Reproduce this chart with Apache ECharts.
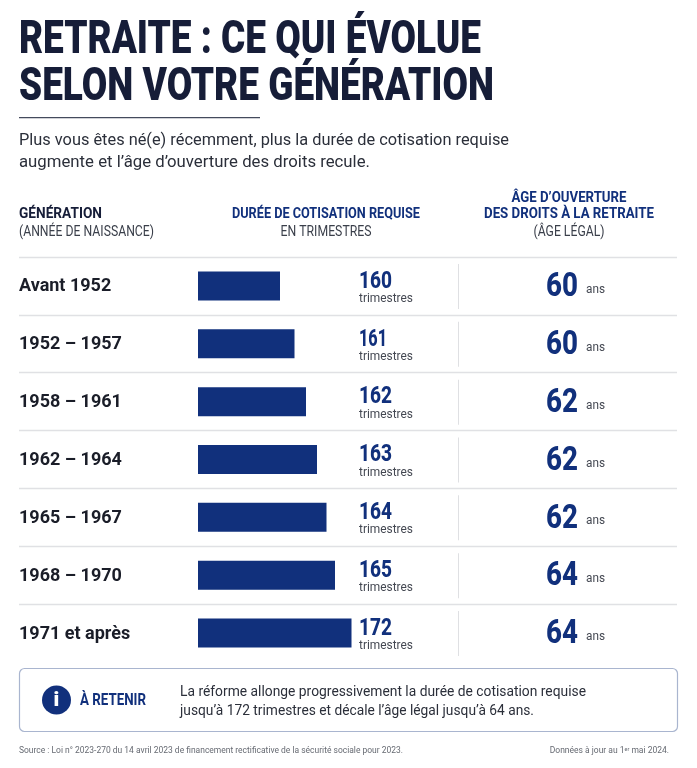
<!DOCTYPE html>
<html><head><meta charset="utf-8">
<style>html,body{margin:0;padding:0;background:#fff}#c{width:697px;height:768px}</style>
<script src="https://cdn.jsdelivr.net/npm/echarts@6/dist/echarts.min.js"></script>
</head><body><div id="c"></div>
<script>
const categories = ['Avant 1952','1952 – 1957','1958 – 1961','1962 – 1964','1965 – 1967','1968 – 1970','1971 et après'];
const trimestres = [160,161,162,163,164,165,172];
const barLengths = [82,96.5,108,119,128.5,137,153.5];
const ages = [60,60,62,62,62,64,64];
const titleLines = ['RETRAITE : CE QUI ÉVOLUE','SELON VOTRE GÉNÉRATION'];
const subtitleLines = ['Plus vous êtes né(e) récemment, plus la durée de cotisation requise','augmente et l’âge d’ouverture des droits recule.'];
const noteLines = ['La réforme allonge progressivement la durée de cotisation requise','jusqu’à 172 trimestres et décale l’âge légal jusqu’à 64 ans.'];

const NAVY='#11307c', INK='#161d38', GREY='#3a3f4a', FF='Roboto, sans-serif';
const mctx=document.createElement('canvas').getContext('2d');
function fit(t,size,weight,w){mctx.font=`${weight} ${size}px Roboto`;return w/mctx.measureText(t).width;}
function T(t,x,y,size,weight,color,w,align){
  return {type:'text',x,y,scaleX:w?fit(t,size,weight,w):1,silent:true,z:5,
    style:{x:0,y:0,text:t,fontSize:size,fontWeight:weight,fontFamily:FF,fill:color,align:align||'left',verticalAlign:'middle'}};
}
const G=[
  T(titleLines[0],19,41,47,'900',INK,462),
  T(titleLines[1],19,88,47,'900',INK,475),
  {type:'rect',shape:{x:19,y:117,width:241,height:1.3},style:{fill:'#444a5c'}},
  T(subtitleLines[0],19,141,16.5,'normal','#2b2f3a',490),
  T(subtitleLines[1],19,163,16.5,'normal','#2b2f3a',351),
  T('GÉNÉRATION',19,214,14.5,'bold',INK,83),
  T('(ANNÉE DE NAISSANCE)',19,232,14,'normal',GREY,135),
  T('DURÉE DE COTISATION REQUISE',326,214,14.5,'bold',NAVY,188,'center'),
  T('EN TRIMESTRES',326,232,14,'normal',GREY,91,'center'),
  T('ÂGE D’OUVERTURE',569,198,14.5,'bold',NAVY,115,'center'),
  T('DES DROITS À LA RETRAITE',569,214,14.5,'bold',NAVY,170,'center'),
  T('(ÂGE LÉGAL)',569,232,14,'normal',GREY,71,'center'),
  {type:'rect',shape:{x:19.5,y:668.5,width:658,height:63,r:5},style:{fill:'#fff',stroke:'#a9b5cf',lineWidth:1.2}},
  {type:'circle',shape:{cx:56.5,cy:700,r:14.5},style:{fill:NAVY}},
  T('i',56.5,701,21,'900','#fff',null,'center'),
  T('À RETENIR',80,701,17,'bold',NAVY,66),
  T(noteLines[0],180,692,14,'normal','#2b2f3a',406),
  T(noteLines[1],180,711,14,'normal','#2b2f3a',354),
  T('Source : Loi n° 2023-270 du 14 avril 2023 de financement rectificative de la sécurité sociale pour 2023.',19,751,8.5,'normal','#666a72',384),
  {type:'text',x:669,y:751,scaleX:1,z:5,style:{x:0,y:0,text:'Données à jour au 1{s|er} mai 2024.',rich:{s:{fontSize:5.5,fontFamily:FF,fill:'#666a72',verticalAlign:'top'}},fontSize:8.5,fontFamily:FF,fill:'#666a72',align:'right',verticalAlign:'middle'}}
];
const TOP=257,H=405;
const chart=echarts.init(document.getElementById('c'),null,{renderer:'canvas'});
function textEl(t,x,y,size,weight,color,w){
  return {type:'text',x,y,scaleX:w?fit(t,size,weight,w):1,
    style:{x:0,y:0,text:t,fontSize:size,fontWeight:weight,fontFamily:FF,fill:color,align:'left',verticalAlign:'middle'}};
}
chart.setOption({
  animation:false,backgroundColor:'#fff',
  grid:[
    {left:198,top:TOP,width:160,height:H},
    {left:19,top:TOP,width:658,height:H}
  ],
  xAxis:[
    {type:'value',gridIndex:0,min:0,max:160,show:false},
    {type:'value',gridIndex:1,min:0,max:658,show:false}
  ],
  yAxis:[
    {type:'category',gridIndex:0,inverse:true,data:categories,axisLine:{show:false},axisTick:{show:false},splitLine:{show:false},axisLabel:{show:false}},
    {type:'category',gridIndex:1,inverse:true,data:categories,axisLine:{show:false},axisTick:{show:false},axisLabel:{show:false},
     splitLine:{show:true,showMinLine:true,showMaxLine:false,lineStyle:{color:'#e0e1e4',width:1.3}}}
  ],
  series:[
    {type:'bar',xAxisIndex:0,yAxisIndex:0,data:barLengths,barWidth:29,itemStyle:{color:NAVY},silent:true},
    {type:'custom',xAxisIndex:1,yAxisIndex:1,silent:true,clip:false,
     data:categories.map((c,i)=>[i]),
     renderItem(params,api){
       const i=api.value(0), yc=api.coord([0,i])[1];
       const n=String(trimestres[i]), a=String(ages[i]);
       return {type:'group',children:[
         textEl(categories[i],19,yc+1,18,'bold','#1a1d28'),
         textEl(n,359,yc-4,23,'800',NAVY,n==='161'?28:33),
         textEl('trimestres',359,yc+13,12.5,'normal','#444852',54),
         {type:'rect',shape:{x:458,y:yc-22,width:1,height:45},style:{fill:'#dfe0e3'}},
         textEl(a,546,yc+2,33,'800',NAVY,32),
         textEl('ans',586,yc+4,12,'normal','#444852',19)
       ]};
     }}
  ],
  graphic:{elements:G}
});
</script></body></html>
